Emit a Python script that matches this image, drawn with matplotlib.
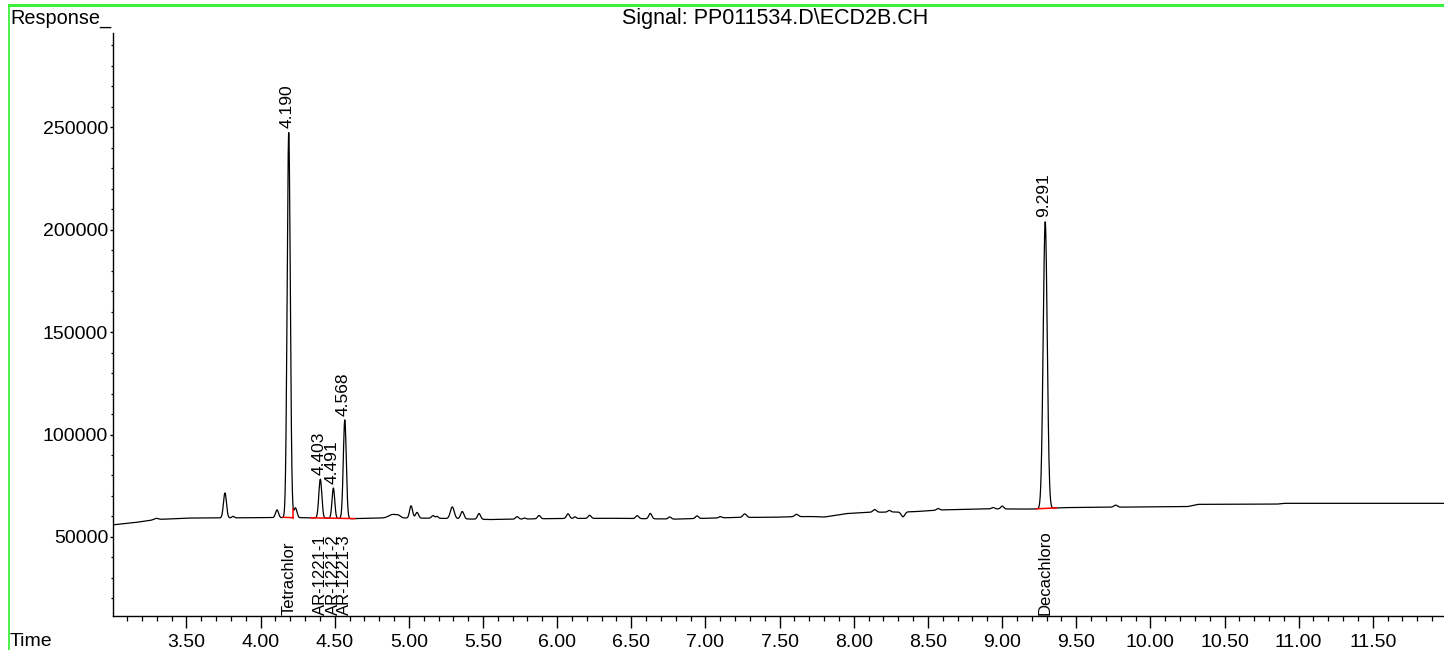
import numpy as np
import matplotlib
matplotlib.use("Agg")
import matplotlib.pyplot as plt
from matplotlib.lines import Line2D
from matplotlib.ticker import MultipleLocator, FormatStrFormatter

# baseline drift of the detector signal (time in min, response)
base_time = [3.005, 3.15, 3.30, 3.50, 4.00, 4.30, 4.60, 4.85, 5.20, 5.55,
             6.00, 6.40, 6.80, 7.20, 7.45, 7.70, 7.80, 7.95, 8.10, 8.40,
             8.60, 8.90, 9.20, 9.40, 9.70, 10.25, 10.32, 10.85, 10.90, 11.98]
base_resp = [55900, 57000, 58500, 59200, 59400, 59400, 58900, 59300, 59100, 58500,
             59000, 59100, 58700, 59500, 59600, 60000, 59700, 61400, 62000, 62300,
             63200, 63700, 63600, 64300, 64500, 64800, 65900, 66000, 66400, 66400]

# peaks: retention time, height above baseline, width (sigma, min)
peak_rt = [3.295, 3.760, 3.814, 4.111, 4.190, 4.235, 4.403, 4.491, 4.568,
           4.890, 4.930, 5.015, 5.055, 5.163, 5.190, 5.293, 5.360, 5.473,
           5.730, 5.780, 5.878, 6.073, 6.120, 6.219, 6.540, 6.628, 6.759,
           6.943, 7.100, 7.265, 7.613, 8.141, 8.240, 8.332, 8.568, 8.940,
           9.001, 9.291, 9.766]
peak_height = [600, 12200, 700, 3800, 188000, 4800, 19000, 14800, 48200,
               1700, 1000, 6000, 2800, 1300, 900, 5700, 3600, 2800,
               1200, 500, 1600, 2300, 800, 1500, 1400, 2600, 1000,
               1300, 600, 1700, 1200, 1300, 800, -2400, 800, 700,
               1400, 140000, 1000]
peak_sigma = [0.015, 0.010, 0.008, 0.010, 0.0105, 0.010, 0.010, 0.009, 0.010,
              0.025, 0.015, 0.010, 0.010, 0.010, 0.008, 0.013, 0.011, 0.010,
              0.010, 0.008, 0.010, 0.010, 0.008, 0.010, 0.010, 0.010, 0.010,
              0.010, 0.010, 0.012, 0.012, 0.012, 0.010, 0.012, 0.010, 0.010,
              0.010, 0.0135, 0.012]

# integrated peaks
labelled_rt = [4.190, 4.403, 4.491, 4.568, 9.291]
compounds = ["Tetrachlor", "AR-1221-1", "AR-1221-2", "AR-1221-3", "Decachloro"]

# integration baselines: start, end, drop line at end
integ_start = [4.151, 4.340, 9.231]
integ_end = [4.221, 4.635, 9.366]
integ_drop = [True, False, False]

FONT = "Liberation Sans"


def trace(t):
    y = np.interp(t, base_time, base_resp)
    for rt, h, s in zip(peak_rt, peak_height, peak_sigma):
        y = y + h * np.exp(-0.5 * ((t - rt) / s) ** 2)
    return y


def make_plot():
    plt.rcParams["font.family"] = FONT
    fig = plt.figure(figsize=(14.44, 6.5), dpi=100)
    ax = fig.add_axes([0.07825, 0.0523, 0.92175, 0.8969])

    t = np.linspace(3.005, 11.98, 8000)
    ax.plot(t, trace(t), color="black", lw=0.9)

    # red integration baselines
    for a, b, drop in zip(integ_start, integ_end, integ_drop):
        yb = np.interp(b, base_time, base_resp)
        ax.plot([a, b], [trace(a), yb], color="red", lw=1.1)
        if drop:
            ax.plot([b, b], [yb, trace(b)], color="red", lw=1.1)

    ax.set_xlim(3.005, 11.98)
    ax.set_ylim(11400, 296000)

    # retention times above peaks, compound names along the axis
    for rt, name in zip(labelled_rt, compounds):
        top = trace(rt)
        ax.annotate("%.3f" % rt, xy=(rt, top), xytext=(-1, 3),
                    textcoords="offset points", rotation=90,
                    ha="center", va="bottom", fontsize=12.5)
        ax.annotate(name, xy=(rt, 11400), xytext=(0, 1),
                    textcoords="offset points", rotation=90,
                    ha="center", va="bottom", fontsize=12)

    for s in ["top", "right"]:
        ax.spines[s].set_visible(False)
    ax.spines["left"].set_linewidth(1.0)
    ax.spines["bottom"].set_linewidth(1.0)

    ax.xaxis.set_major_locator(MultipleLocator(0.5))
    ax.xaxis.set_minor_locator(MultipleLocator(0.1))
    ax.xaxis.set_major_formatter(FormatStrFormatter("%.2f"))
    ax.yaxis.set_major_locator(MultipleLocator(50000))
    ax.yaxis.set_minor_locator(MultipleLocator(10000))
    ax.set_yticks([50000, 100000, 150000, 200000, 250000])
    ax.tick_params(axis="x", which="major", length=8.6, width=1.0, pad=4, labelsize=14)
    ax.tick_params(axis="x", which="minor", length=3.6, width=0.9)
    ax.tick_params(axis="y", which="major", length=2.5, width=1.0, pad=1, labelsize=14)
    ax.tick_params(axis="y", which="minor", length=1.8, width=0.9)
    # no 3.00 label: the axis starts just past it
    ax.set_xticks(np.arange(3.5, 12.0, 0.5))

    fig.text(0.0069, 0.9723, "Response_", ha="left", va="center", fontsize=14.3)
    fig.text(0.0069, 0.0138, "Time", ha="left", va="center", fontsize=14)
    fig.text(0.5367, 0.9723, "Signal: PP011534.D\\ECD2B.CH", ha="center",
             va="center", fontsize=15.5)

    # green frame of the report page
    green = "#3cf03c"
    fig.add_artist(Line2D([0.0062, 1.0], [0.9923, 0.9923], color=green, lw=2.2,
                          transform=fig.transFigure))
    fig.add_artist(Line2D([0.0062, 0.0062], [0.0, 0.9923], color=green, lw=1.3,
                          transform=fig.transFigure))

    fig.savefig("out.png", dpi=100)


if __name__ == "__main__":
    make_plot()
